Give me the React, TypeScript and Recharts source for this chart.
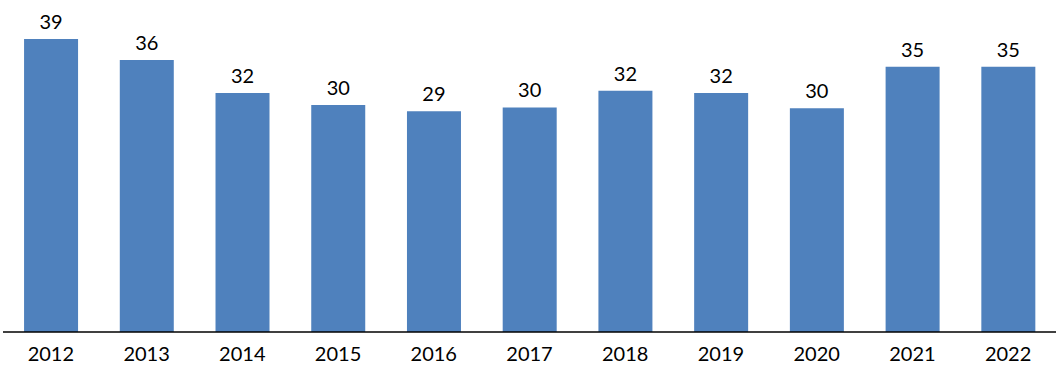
import React from "react";
import { BarChart, Bar, XAxis, YAxis, LabelList } from "recharts";

const years = ["2012", "2013", "2014", "2015", "2016", "2017", "2018", "2019", "2020", "2021", "2022"];
const values = [39.0, 36.2, 31.8, 30.2, 29.4, 29.9, 32.1, 31.8, 29.8, 35.3, 35.3];

const data = years.map((y, i) => ({ year: y, value: values[i] }));

const FONT = "Lato, 'Open Sans', sans-serif";

export default function App() {
  return (
    <div style={{ position: "absolute", left: 0, top: 0, background: "#fff" }}>
      <BarChart
        width={1064}
        height={372}
        data={data}
        margin={{ top: 31.5, right: 8, bottom: 10, left: 3 }}
        barCategoryGap="22%"
      >
        <YAxis hide domain={[0, 40]} />
        <XAxis
          dataKey="year"
          height={30}
          tickLine={false}
          tickMargin={9}
          axisLine={{ stroke: "#000", strokeWidth: 1.3 }}
          tick={{ fill: "#000", fontSize: 20, fontFamily: FONT }}
          interval={0}
        />
        <Bar dataKey="value" fill="#4F81BD" isAnimationActive={false}>
          <LabelList
            dataKey="value"
            position="top"
            offset={10}
            formatter={(v: number) => Math.round(v).toString()}
            style={{ fill: "#000", fontSize: 20, fontFamily: FONT }}
          />
        </Bar>
      </BarChart>
    </div>
  );
}
